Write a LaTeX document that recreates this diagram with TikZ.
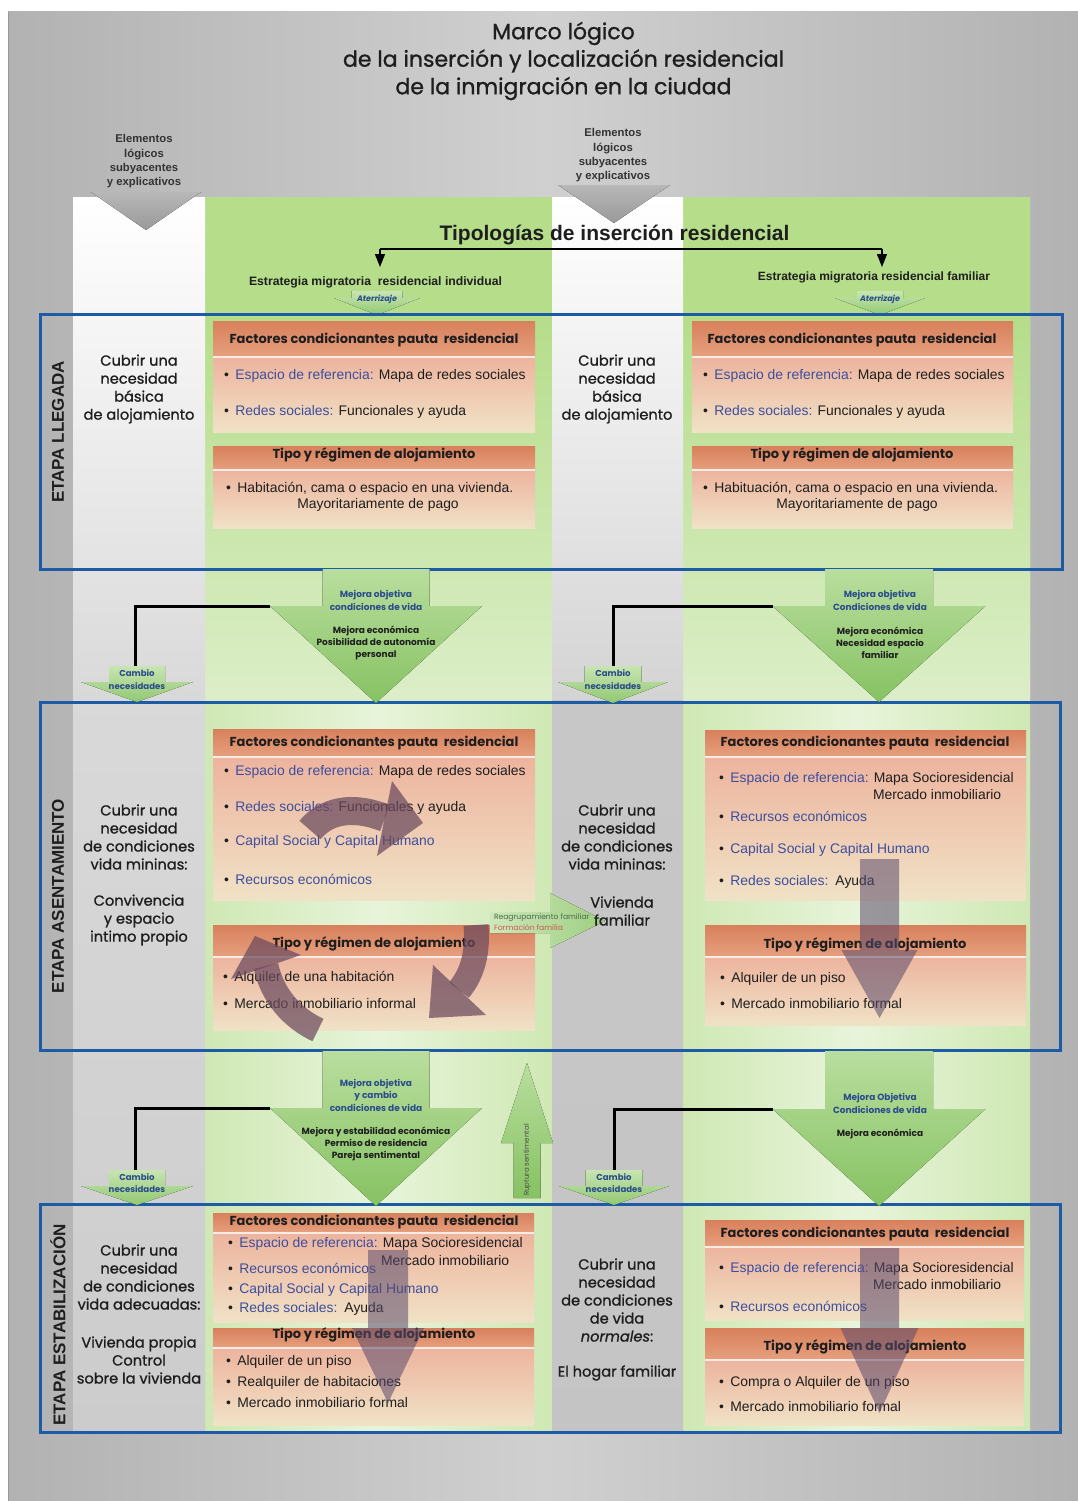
\documentclass[tikz,border=0pt]{standalone}
\usepackage{fontspec}
\setmainfont{Liberation Sans}
\newfontfamily\gothic{Poppins}
\newfontfamily\gothicm{Poppins}[FakeBold=1.1]
\newfontfamily\arial{Liberation Sans}
\usetikzlibrary{arrows.meta}
\newcommand\myfs[2]{\fontsize{#1}{#2}\selectfont}
\newcommand\bu{\textbullet\hspace{6.5pt}}
\newcommand\gArrow[7]{\fill[#7] (#1-#2,#3) -- (#1+#2,#3) -- (#1+#2,#5) -- (#1+#4,#5) -- (#1,#6) -- (#1-#4,#5) -- (#1-#2,#5) -- cycle;}
\definecolor{bgedge}{HTML}{B2B2B2}
\definecolor{bgmid}{HTML}{D0D0D0}
\definecolor{gtop}{HTML}{B5DD8A}
\definecolor{gedge}{HTML}{CFE8B4}
\definecolor{gmid}{HTML}{E8F4DA}
\definecolor{gfade}{HTML}{DCEEC8}
\definecolor{boxblue}{HTML}{1D5BA6}
\definecolor{labblue}{HTML}{3D4E9E}
\definecolor{arrblue}{HTML}{2B4C8C}
\definecolor{txtdark}{HTML}{1E1E1E}
\definecolor{agtop}{HTML}{B9DE9E}
\definecolor{agbot}{HTML}{86C262}
\definecolor{cyc}{HTML}{6B4A5E}
\definecolor{dnarr}{HTML}{5A4A6C}
\definecolor{hdrA}{HTML}{D8805C}
\definecolor{hdrB}{HTML}{E6A07E}
\definecolor{bodA}{HTML}{EDB49E}
\definecolor{bodB}{HTML}{F0E2C6}
\definecolor{reagr}{HTML}{4B6B4B}
\definecolor{formc}{HTML}{C85A50}
\begin{document}
\begin{tikzpicture}[x=1pt,y=-1pt,
  every node/.style={inner sep=0pt,outer sep=0pt},
  title/.style={font=\gothicm\myfs{22}{27.5},text=txtdark,align=center},
  elem/.style={font=\arial\bfseries\myfs{11.3}{14.3},text=black!80,align=center},
  coltxt/.style={font=\gothicm\myfs{14.6}{18},text=txtdark,align=center},
  hdrtxt/.style={font=\gothic\bfseries\myfs{13}{15},text=txtdark},
  bul/.style={font=\arial\myfs{13.9}{16},text=txtdark,anchor=west},
  arrtxtB/.style={font=\gothic\bfseries\myfs{9}{12.5},text=arrblue,align=center},
  arrtxtD/.style={font=\gothic\bfseries\myfs{9}{12},text=txtdark,align=center},
  stagetxt/.style={font=\arial\bfseries\myfs{17}{20},text=txtdark,rotate=90},
  greenarrow/.style={top color=agtop,bottom color=agbot},
  smallgreen/.style={top color=agtop!80!white,bottom color=agbot!90!white},
  hdrbar/.style={top color=hdrA,bottom color=hdrB},
  bodybox/.style={top color=bodA,bottom color=bodB},
  stagebox/.style={draw=boxblue,line width=3pt},
  conn/.style={draw=black,line width=3pt},
  cycshaft/.style={draw=cyc,opacity=0.72},
  cychead/.style={fill=cyc,opacity=0.72},
  dnarrow/.style={fill=dnarr,opacity=0.55}]
\useasboundingbox (0,0) rectangle (1078,1501);
\fill[white] (0,0) rectangle (1078,1501);
% backdrop
\shade[left color=bgedge,right color=bgedge,middle color=bgmid] (8,12) rectangle (1078,1501);
\draw[black!40,line width=1pt] (8,12) -- (8,1501);
% columns
\shade[left color=gedge,right color=gedge,middle color=gmid] (205,197) rectangle (552,1432);
\shade[left color=gedge,right color=gedge,middle color=gmid] (683,197) rectangle (1030,1432);
\fill[gtop] (205,197) rectangle (552,316);
\fill[gtop] (683,197) rectangle (1030,316);
\shade[top color=gtop,bottom color=gfade] (205,316) rectangle (552,700);
\shade[top color=gtop,bottom color=gfade] (683,316) rectangle (1030,700);
\shade[top color=white,bottom color=black!15] (73,197) rectangle (205,700);
\shade[top color=black!15,bottom color=black!20] (73,700) rectangle (205,1432);
\shade[top color=white,bottom color=black!17] (552,197) rectangle (683,700);
\shade[top color=black!22,bottom color=black!23] (552,700) rectangle (683,1432);
% title
\node[title] (title) at (563.5,61) {Marco lógico\\de la inserción y localización residencial\\de la inmigración en la ciudad};
% elementos
\node[elem] (elemL) at (144,161.5) {Elementos\\lógicos\\subyacentes\\y explicativos};
\node[elem] (elemC) at (613,155.5) {Elementos\\lógicos\\subyacentes\\y explicativos};
\fill[top color=black!28,bottom color=black!40] (91,192) -- (201,192) -- (146,230) -- cycle;
\fill[top color=black!28,bottom color=black!40] (558,185) -- (670,185) -- (614,223) -- cycle;
% tipologias
\node[font=\arial\bfseries\myfs{21}{24},text=txtdark] (tipo) at (614.5,235) {Tipologías de inserción residencial};
\coordinate (brL) at (380,249);
\coordinate (brR) at (882,249);
\coordinate (brLe) at (380,267);
\coordinate (brRe) at (882,267);
\draw[black,line width=1.3pt] (brL) -- (brR);
\draw[black,line width=1.3pt,-{Triangle[length=13pt,width=10pt]}] (brL) -- (brLe);
\draw[black,line width=1.3pt,-{Triangle[length=13pt,width=10pt]}] (brR) -- (brRe);
\node[font=\arial\bfseries\myfs{12.2}{14},text=txtdark] (estI) at (375.5,282) {Estrategia migratoria~ residencial individual};
\node[font=\arial\bfseries\myfs{12}{14},text=txtdark] (estF) at (874,277) {Estrategia migratoria residencial familiar};
% aterrizaje
\gArrow{377}{25.5}{291}{43}{298}{315}{smallgreen}
\gArrow{880}{23}{291}{45}{298}{315}{smallgreen}
\node[font=\gothic\itshape\bfseries\myfs{8}{10},text=arrblue] (atL) at (377,299.5) {Aterrizaje};
\node[font=\gothic\itshape\bfseries\myfs{8}{10},text=arrblue] (atR) at (880,299.5) {Aterrizaje};
% ===== content boxes =====
% llegada B
\fill[hdrbar] (213,321) rectangle (535,357);
\fill[bodybox] (213,357) rectangle (535,432);
\fill[hdrbar] (213,446) rectangle (535,470);
\fill[bodybox] (213,470) rectangle (535,528);
\draw[white!80!hdrB,line width=1.2pt] (213,357) -- (535,357) (213,470) -- (535,470);
% llegada D
\fill[hdrbar] (692,321) rectangle (1013,357);
\fill[bodybox] (692,357) rectangle (1013,432);
\fill[hdrbar] (692,446) rectangle (1013,470);
\fill[bodybox] (692,470) rectangle (1013,528);
\draw[white!80!hdrB,line width=1.2pt] (692,357) -- (1013,357) (692,470) -- (1013,470);
% asentamiento B
\fill[hdrbar] (213,729) rectangle (535,757);
\fill[bodybox] (213,757) rectangle (535,900);
\fill[hdrbar] (213,925) rectangle (535,957);
\fill[bodybox] (213,957) rectangle (535,1030);
\draw[white!80!hdrB,line width=1.2pt] (213,757) -- (535,757) (213,957) -- (535,957);
% asentamiento D
\fill[hdrbar] (705,730) rectangle (1026,757);
\fill[bodybox] (705,757) rectangle (1026,900);
\fill[hdrbar] (705,925) rectangle (1026,957);
\fill[bodybox] (705,957) rectangle (1026,1025);
\draw[white!80!hdrB,line width=1.2pt] (705,757) -- (1026,757) (705,957) -- (1026,957);
% estabilizacion B
\fill[hdrbar] (213,1213) rectangle (534,1233);
\fill[bodybox] (213,1233) rectangle (534,1322);
\fill[hdrbar] (213,1328) rectangle (534,1348);
\fill[bodybox] (213,1348) rectangle (534,1425);
\draw[white!80!hdrB,line width=1.2pt] (213,1233) -- (534,1233) (213,1348) -- (534,1348);
% estabilizacion D
\fill[hdrbar] (705,1220) rectangle (1024,1247);
\fill[bodybox] (705,1247) rectangle (1024,1320);
\fill[hdrbar] (705,1328) rectangle (1024,1360);
\fill[bodybox] (705,1360) rectangle (1024,1425);
\draw[white!80!hdrB,line width=1.2pt] (705,1247) -- (1024,1247) (705,1360) -- (1024,1360);
% ===== stage boxes =====
\draw[stagebox] (40,314) rectangle (1062,569);
\draw[stagebox] (40,702) rectangle (1060,1050);
\draw[stagebox] (40,1204) rectangle (1060,1432);
\node[stagetxt] (st1) at (58,432) {ETAPA LLEGADA};
\node[stagetxt] (st2) at (58,896) {ETAPA ASENTAMIENTO};
\node[stagetxt] (st3) at (58,1325) {ETAPA ESTABILIZACIÓN};
% reagrupamiento arrow (under column text)
\fill[left color=agtop!70!white,right color=agbot!80!white] (490,912) -- (550,912) -- (550,893) -- (605,921) -- (550,948) -- (550,933) -- (490,933) -- cycle;
\node[font=\gothic\myfs{7.6}{10},text=reagr,anchor=west] (reag) at (494,918) {Reagrupamiento familiar};
\node[font=\gothic\myfs{7.6}{10},text=formc,anchor=west] (form) at (494,928) {Formación familia};
% ===== column texts =====
\node[coltxt] (a1) at (139,389) {Cubrir una\\necesidad\\básica\\de alojamiento};
\node[coltxt] (c1) at (617,389) {Cubrir una\\necesidad\\básica\\de alojamiento};
\node[coltxt] (a2) at (139,837) {Cubrir una\\necesidad\\de condiciones\\vida mininas:};
\node[coltxt] (a2b) at (139,920) {Convivencia\\y espacio\\intimo propio};
\node[coltxt] (c2) at (617,837) {Cubrir una\\necesidad\\de condiciones\\vida mininas:};
\node[coltxt] (c2b) at (622,911) {Vivienda\\familiar};
\node[coltxt] (a3) at (139,1277) {Cubrir una\\necesidad\\de condiciones\\vida adecuadas:};
\node[coltxt] (a3b) at (139,1360) {Vivienda propia\\Control\\sobre la vivienda};
\node[coltxt] (c3) at (617,1300) {Cubrir una\\necesidad\\de condiciones\\de vida\\\textit{normales}:};
\node[coltxt] (c3b) at (617,1373) {El hogar familiar};
% ===== box texts =====
% llegada B
\node[hdrtxt] (hB1) at (374,340) {Factores condicionantes pauta~ residencial};
\node[bul] (bB1a) at (224,376) {\bu{\color{labblue}Espacio de referencia:} Mapa de redes sociales};
\node[bul] (bB1b) at (224,412) {\bu{\color{labblue}Redes sociales:} Funcionales y ayuda};
\node[hdrtxt] (tB1) at (374,455) {Tipo y régimen de alojamiento};
\node[bul] (bB1c) at (226,489) {\bu Habitación, cama o espacio en una vivienda.};
\node[bul,anchor=center] (bB1d) at (378,505) {Mayoritariamente de pago};
% llegada D
\node[hdrtxt] (hD1) at (852,340) {Factores condicionantes pauta~ residencial};
\node[bul] (bD1a) at (703,376) {\bu{\color{labblue}Espacio de referencia:} Mapa de redes sociales};
\node[bul] (bD1b) at (703,412) {\bu{\color{labblue}Redes sociales:} Funcionales y ayuda};
\node[hdrtxt] (tD1) at (852,455) {Tipo y régimen de alojamiento};
\node[bul] (bD1c) at (703,489) {\bu Habituación, cama o espacio en una vivienda.};
\node[bul,anchor=center] (bD1d) at (857,505) {Mayoritariamente de pago};
% asentamiento B
\node[hdrtxt] (hB2) at (374,743) {Factores condicionantes pauta~ residencial};
\node[bul] (bB2a) at (224,772) {\bu{\color{labblue}Espacio de referencia:} Mapa de redes sociales};
\node[bul] (bB2b) at (224,808) {\bu{\color{labblue}Redes sociales:} Funcionales y ayuda};
\node[bul] (bB2c) at (224,842) {\bu{\color{labblue}Capital Social y Capital Humano}};
\node[bul] (bB2d) at (224,879) {\bu{\color{labblue}Recursos económicos}};
\node[hdrtxt] (tB2) at (374,944) {Tipo y régimen de alojamiento};
\node[bul] (bB2e) at (223,978) {\bu Alquiler de una habitación};
\node[bul] (bB2f) at (223,1004) {\bu Mercado inmobiliario informal};
% asentamiento D
\node[hdrtxt] (hD2) at (865,743) {Factores condicionantes pauta~ residencial};
\node[bul] (bD2a) at (719,779) {\bu{\color{labblue}Espacio de referencia:} Mapa Socioresidencial};
\node[bul] (bD2a2) at (873,795) {Mercado inmobiliario};
\node[bul] (bD2b) at (719,816) {\bu{\color{labblue}Recursos económicos}};
\node[bul] (bD2c) at (719,850) {\bu{\color{labblue}Capital Social y Capital Humano}};
\node[bul] (bD2d) at (719,882) {\bu{\color{labblue}Redes sociales:}\hspace{7pt}Ayuda};
\node[hdrtxt] (tD2) at (865,945) {Tipo y régimen de alojamiento};
\node[bul] (bD2e) at (720,979) {\bu Alquiler de un piso};
\node[bul] (bD2f) at (720,1004) {\bu Mercado inmobiliario formal};
% estabilizacion B
\node[hdrtxt] (hB3) at (374,1222) {Factores condicionantes pauta~ residencial};
\node[bul] (bB3a) at (228,1244) {\bu{\color{labblue}Espacio de referencia:} Mapa Socioresidencial};
\node[bul] (bB3a2) at (381,1261) {Mercado inmobiliario};
\node[bul] (bB3b) at (228,1268) {\bu{\color{labblue}Recursos económicos}};
\node[bul] (bB3c) at (228,1290) {\bu{\color{labblue}Capital Social y Capital Humano}};
\node[bul] (bB3d) at (228,1309) {\bu{\color{labblue}Redes sociales:}\hspace{7pt}Ayuda};
\node[hdrtxt] (tB3) at (374,1335) {Tipo y régimen de alojamiento};
\node[bul] (bB3e) at (226,1362) {\bu Alquiler de un piso};
\node[bul] (bB3f) at (226,1383) {\bu Realquiler de habitaciones};
\node[bul] (bB3g) at (226,1403) {\bu Mercado inmobiliario formal};
% estabilizacion D
\node[hdrtxt] (hD3) at (865,1234) {Factores condicionantes pauta~ residencial};
\node[bul] (bD3a) at (719,1269) {\bu{\color{labblue}Espacio de referencia:} Mapa Socioresidencial};
\node[bul] (bD3a2) at (873,1285) {Mercado inmobiliario};
\node[bul] (bD3b) at (719,1306) {\bu{\color{labblue}Recursos económicos}};
\node[hdrtxt] (tD3) at (865,1347) {Tipo y régimen de alojamiento};
\node[bul] (bD3c) at (719,1383) {\bu Compra o Alquiler de un piso};
\node[bul] (bD3d) at (719,1407) {\bu Mercado inmobiliario formal};
% ===== connectors =====
\coordinate (cB1) at (270,606);
\coordinate (cA1) at (135,667);
\coordinate (cD1) at (773,606);
\coordinate (cC1) at (613,667);
\coordinate (cB2) at (270,1108);
\coordinate (cA2) at (135,1170);
\coordinate (cD2) at (773,1109);
\coordinate (cC2) at (614,1170);
\draw[conn] (cB1) -| (cA1);
\draw[conn] (cD1) -| (cC1);
\draw[conn] (cB2) -| (cA2);
\draw[conn] (cD2) -| (cC2);
% ===== green transition arrows =====
\gArrow{376}{53.5}{569}{106}{606}{703}{greenarrow}
\gArrow{879}{54}{569}{106.5}{606}{702}{greenarrow}
\gArrow{376}{53.5}{1051}{106}{1108}{1206}{greenarrow}
\gArrow{879}{54}{1051}{106.5}{1109}{1206}{greenarrow}
\node[arrtxtB] (m1a) at (376,600.5) {Mejora objetiva\\condiciones de vida};
\node[arrtxtD] (m1b) at (376,643) {Mejora económica\\Posibilidad de autonomía\\personal};
\node[arrtxtB] (m2a) at (880,600.5) {Mejora objetiva\\Condiciones de vida};
\node[arrtxtD] (m2b) at (880,643) {Mejora económica\\Necesidad espacio\\familiar};
\node[arrtxtB] (m3a) at (376,1095) {Mejora objetiva\\y cambio\\condiciones de vida};
\node[arrtxtD] (m3b) at (376,1143.5) {Mejora y estabilidad económica\\Permiso de residencia\\Pareja sentimental};
\node[arrtxtB] (m4a) at (880,1103.5) {Mejora Objetiva\\Condiciones de vida};
\node[arrtxtD] (m4b) at (880,1134) {Mejora económica};
% cambio necesidades
\gArrow{137}{28}{666}{56}{682}{702}{smallgreen}
\gArrow{613}{28.5}{666}{55}{682}{703}{smallgreen}
\gArrow{137}{28}{1170}{56}{1186}{1205}{smallgreen}
\gArrow{614}{28.5}{1170}{55}{1186}{1205}{smallgreen}
\node[arrtxtB,font=\gothic\bfseries\myfs{8.6}{12.5}] (cn1) at (137,679.5) {Cambio\\necesidades};
\node[arrtxtB,font=\gothic\bfseries\myfs{8.6}{12.5}] (cn2) at (613,679.5) {Cambio\\necesidades};
\node[arrtxtB,font=\gothic\bfseries\myfs{8.6}{12.5}] (cn3) at (137,1183) {Cambio\\necesidades};
\node[arrtxtB,font=\gothic\bfseries\myfs{8.6}{12.5}] (cn4) at (614,1183) {Cambio\\necesidades};
% ruptura sentimental
\gArrow{527}{13.5}{1198}{26}{1143}{1063}{greenarrow}
\node[font=\gothic\myfs{7}{8},text=black!70,rotate=90] (rupt) at (527,1160) {Ruptura sentimental};
% ===== cyclic arrows =====
\draw[cycshaft,line width=28pt] (310,830) .. controls (330,806) and (360,808) .. (385,818);
\fill[cychead] (392,781) -- (423,823) -- (377,856) -- cycle;
\draw[cycshaft,line width=25pt] (476,925) .. controls (478,950) and (474,972) .. (459,990);
\fill[cychead] (433,965) -- (486,1015) -- (429,1018) -- cycle;
\draw[cycshaft,line width=25pt] (318,1030) .. controls (292,1018) and (272,995) .. (266,966);
\fill[cychead] (231,979) -- (255,936) -- (301,955) -- cycle;
% ===== down arrows =====
\gArrow{879.5}{19.5}{859}{38}{950}{1018}{dnarrow}
\gArrow{388}{20}{1250}{36}{1328}{1403}{dnarrow}
\gArrow{879.5}{19.5}{1248}{39}{1328}{1413}{dnarrow}
\end{tikzpicture}
\end{document}
